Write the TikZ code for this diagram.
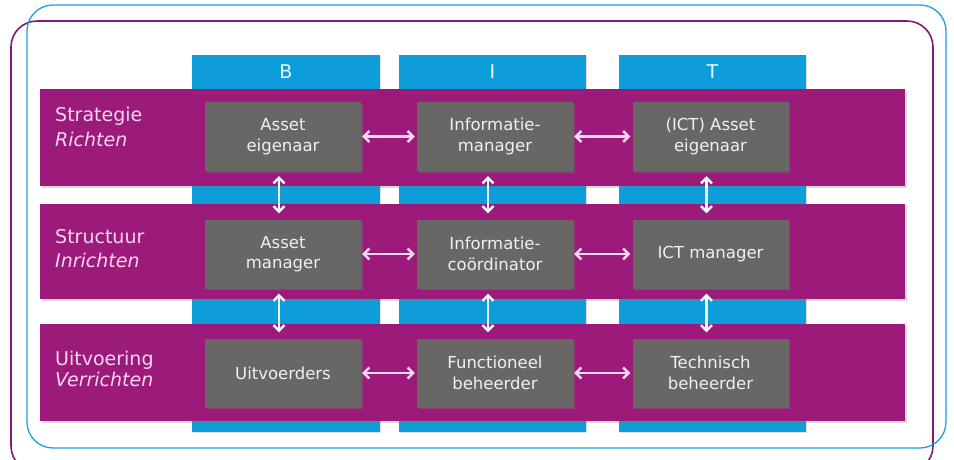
\documentclass[tikz,border=0pt]{standalone}
\usepackage{fontspec}
\setmainfont{DejaVu Sans}
\usetikzlibrary{arrows.meta,shadows}
\definecolor{rowpurple}{HTML}{9C1A7A}
\definecolor{colblue}{HTML}{0D9DDB}
\definecolor{boxgray}{HTML}{696766}
\definecolor{framecyan}{HTML}{1BA0E0}
\definecolor{framepurple}{HTML}{7E1C72}
\definecolor{lblpink}{HTML}{F6D6F0}
\definecolor{arrpink}{HTML}{F8D8F0}
\definecolor{arrcyan}{HTML}{E8F8FF}
\tikzset{
  colbar/.style={fill=colblue, draw=none, drop shadow={shadow xshift=1pt,shadow yshift=-1pt,opacity=0.25}},
  rowbar/.style={fill=rowpurple, draw=none, drop shadow={shadow xshift=1.5pt,shadow yshift=-1.5pt,opacity=0.3}},
  rolebox/.style={fill=boxgray, draw=none, minimum width=156pt, minimum height=69pt, inner sep=0pt,
    text=white!88!gray, font=\fontsize{16.5}{20.5}\selectfont, align=center,
    drop shadow={shadow xshift=1.5pt,shadow yshift=-1.5pt,opacity=0.35}},
  rowlabel/.style={anchor=base west, inner sep=0pt, text=lblpink,
    font=\fontsize{19}{24}\selectfont},
  collabel/.style={text=arrcyan, font=\fontsize{19}{22}\selectfont},
  harrow/.style={draw=arrpink, line width=2.4pt, {Straight Barb[length=5.5pt,width=11pt]}-{Straight Barb[length=5.5pt,width=11pt]}},
  varrow/.style={draw=arrcyan, line width=2.4pt, {Straight Barb[length=5.5pt,width=11pt]}-{Straight Barb[length=5.5pt,width=11pt]}},
}
\begin{document}
\begin{tikzpicture}[x=1pt,y=-1pt]
\useasboundingbox (0,0) rectangle (954,459);
% frames
\begin{scope}
\clip (0,0) rectangle (954,459);
\draw[framepurple, line width=1.6pt, rounded corners=26pt] (11,21) rectangle (933,472);
\end{scope}
\draw[framecyan, line width=1.3pt, rounded corners=26pt] (27,5) rectangle (946,448);
% column bars
\path[colbar] (192,55) rectangle (380,432);
\path[colbar] (399,55) rectangle (586,432);
\path[colbar] (619,55) rectangle (806,432);
\node[collabel] (cB) at (286,72) {B};
\node[collabel] (cI) at (492.5,72) {I};
\node[collabel] (cT) at (712.5,72) {T};
% row bars
\path[rowbar] (40,89) rectangle (905,186);
\path[rowbar] (40,204) rectangle (905,299);
\path[rowbar] (40,324) rectangle (905,421);
% row labels
\node[rowlabel] (l1) at (55,121) {Strategie};
\node[rowlabel] (l1i) at (55,146) {\textit{Richten}};
\node[rowlabel] (l2) at (55,243) {Structuur};
\node[rowlabel] (l2i) at (55,267) {\textit{Inrichten}};
\node[rowlabel] (l3) at (55,365) {Uitvoering};
\node[rowlabel] (l3i) at (55,386) {\textit{Verrichten}};
% boxes
\node[rolebox] (a1) at (283,136.5) {Asset\\eigenaar};
\node[rolebox] (a2) at (495,136.5) {Informatie-\\manager};
\node[rolebox] (a3) at (710.5,136.5) {(ICT) Asset\\eigenaar};
\node[rolebox] (b1) at (283,254) {Asset\\manager};
\node[rolebox] (b2) at (495,254) {Informatie-\\coördinator};
\node[rolebox] (b3) at (710.5,254) {ICT manager};
\node[rolebox] (c1) at (283,373) {Uitvoerders};
\node[rolebox] (c2) at (495,373) {Functioneel\\beheerder};
\node[rolebox] (c3) at (710.5,373) {Technisch\\beheerder};
% horizontal arrows
\foreach \l/\r in {a1/a2,a2/a3,b1/b2,b2/b3,c1/c2,c2/c3}{
  \draw[harrow] ([xshift=1pt]\l.east) -- ([xshift=-2pt]\r.west);
}
% vertical arrows
\draw[varrow] ([xshift=-4pt,yshift=-5pt]a1.south) -- ([xshift=-4pt,yshift=6pt]b1.north);
\draw[varrow] ([xshift=-4pt,yshift=-5pt]b1.south) -- ([xshift=-4pt,yshift=6pt]c1.north);
\draw[varrow] ([xshift=-7pt,yshift=-5pt]a2.south) -- ([xshift=-7pt,yshift=6pt]b2.north);
\draw[varrow] ([xshift=-7pt,yshift=-5pt]b2.south) -- ([xshift=-7pt,yshift=6pt]c2.north);
\draw[varrow] ([xshift=-4pt,yshift=-5pt]a3.south) -- ([xshift=-4pt,yshift=6pt]b3.north);
\draw[varrow] ([xshift=-4pt,yshift=-5pt]b3.south) -- ([xshift=-4pt,yshift=6pt]c3.north);
\end{tikzpicture}
\end{document}
